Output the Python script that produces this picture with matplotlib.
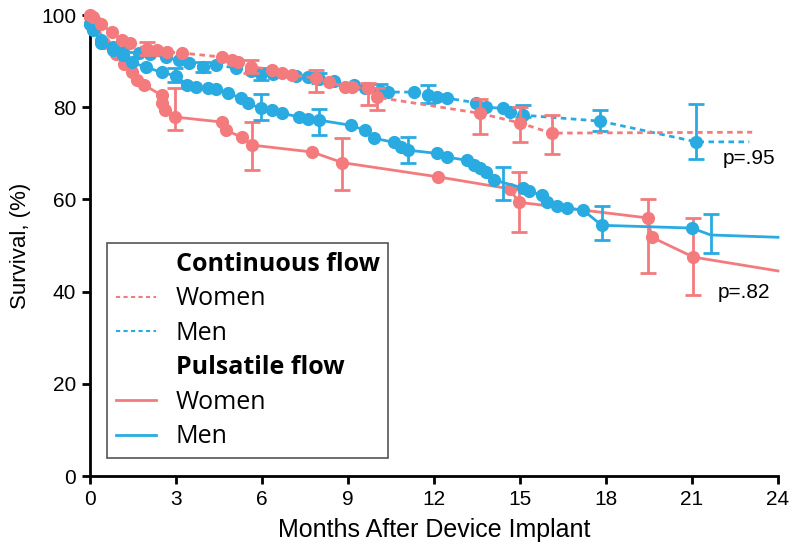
import matplotlib
matplotlib.use("Agg")
from matplotlib import pyplot as plt
from matplotlib.lines import Line2D

PINK = '#F37B7D'
BLUE = '#29ABE2'

# continuous flow, women
cw_months = [0, 0.1, 0.4, 0.75, 1.1, 1.4, 2.0, 2.35, 2.7, 3.2, 4.6, 4.95, 5.15, 5.6, 6.35, 6.7,
             7.05, 7.9, 8.35, 8.9, 9.15, 9.7, 10.0, 13.6, 15.0, 16.1, 23.1]
cw_surv = [100, 99.6, 98, 96.3, 94.6, 93.9, 92.6, 92.4, 92, 91.8, 90.9, 90.2, 89.8, 88.8, 88.2, 87.4,
           87, 86.3, 85.5, 84.4, 84.4, 84.2, 82.2, 78.7, 76.6, 74.4, 74.6]
cw_err_x = [2.0, 5.6, 7.9, 9.7, 10.0, 13.6, 15.0, 16.1]
cw_err_lo = [91.3, 87.4, 83.3, 80.5, 79.4, 74.2, 72.5, 69.8]
cw_err_hi = [94.1, 90.2, 88.0, 85.2, 84.2, 81.8, 80.0, 78.3]

# continuous flow, men
cm_months = [0, 0.1, 0.4, 0.8, 1.15, 1.7, 2.1, 2.65, 3.1, 3.45, 3.95, 4.4, 5.1, 5.6, 5.95, 6.4,
             7.2, 7.6, 8.0, 8.5, 9.2, 9.6, 10.1, 10.4, 11.3, 11.8, 12.1, 12.45, 13.45, 13.8,
             14.4, 14.65, 15.1, 17.8, 21.15, 23.0]
cm_surv = [98, 96.7, 94.5, 93, 92, 91.8, 91.5, 90.9, 90.2, 89.6, 88.7, 89.2, 88.5, 87.8, 87.3, 87.3,
           86.8, 86.6, 86.1, 85.6, 84.8, 84.2, 83.6, 83.3, 83.3, 82.6, 82.2, 82, 81, 80,
           79.8, 79, 78.3, 77, 72.5, 72.5]
cm_err_x = [3.95, 5.95, 8.0, 10.1, 11.8, 15.1, 17.8, 21.15]
cm_err_lo = [87.6, 86.0, 85.2, 82.6, 81.0, 77.9, 74.9, 68.8]
cm_err_hi = [89.8, 88.5, 87.4, 85.0, 84.8, 80.5, 79.4, 80.7]

# pulsatile flow, women
pw_months = [0, 0.2, 0.5, 0.9, 1.2, 1.45, 1.65, 1.9, 2.5, 2.5, 2.6, 2.95, 4.6, 4.75, 5.3, 5.65,
             7.75, 8.8, 12.15, 14.65, 14.95, 19.45, 19.6, 21.05, 24]
pw_surv = [99.5, 98.5, 94, 91.5, 89.5, 87.6, 85.9, 84.8, 82.6, 80.9, 79.4, 77.9, 76.8, 75, 73.5, 71.8,
           70.3, 68, 64.9, 62.3, 59.4, 56, 51.8, 47.5, 44.5]
pw_err_x = [2.95, 5.65, 8.8, 14.95, 19.45, 21.05]
pw_err_lo = [75.0, 66.4, 62.0, 52.9, 44.0, 39.3]
pw_err_hi = [84.2, 76.8, 73.3, 66.0, 60.0, 56.0]

# pulsatile flow, men
pm_months = [0, 0.1, 0.4, 0.8, 1.15, 1.45, 1.95, 2.5, 3.0, 3.4, 3.7, 4.1, 4.4, 4.8, 5.25, 5.5,
             5.95, 6.35, 6.7, 7.3, 7.6, 8.0, 9.1, 9.6, 9.9, 10.6, 10.85, 11.1, 12.1, 12.45,
             13.15, 13.4, 13.6, 13.8, 14.1, 15.1, 15.3, 15.75, 15.95, 16.3, 16.65, 17.2,
             17.85, 21.0, 21.65, 24]
pm_surv = [98, 97, 94, 92.4, 91.3, 89.8, 88.7, 87.6, 86.8, 84.8, 84.5, 84.2, 84, 83.1, 82, 80.9,
           79.8, 79.4, 78.7, 77.9, 77.4, 77.2, 76.1, 75, 73.3, 72.4, 71.4, 70.7, 70, 69.2,
           68.5, 67.5, 66.8, 66, 64.2, 62.5, 61.8, 61, 59.4, 58.6, 58.1, 57.7,
           54.4, 53.8, 52.3, 51.8]
pm_err_x = [2.95, 5.95, 8.0, 11.1, 14.4, 17.85, 21.65]
pm_err_lo = [85.5, 77.3, 74.0, 67.9, 59.9, 51.2, 48.4]
pm_err_hi = [88.5, 82.9, 79.6, 73.5, 67.0, 58.6, 56.8]

p_cont = 'p=.95'
p_puls = 'p=.82'

plt.rcParams['font.family'] = ['Liberation Sans', 'DejaVu Sans']

fig = plt.figure(figsize=(8, 5.5), dpi=100)
ax = fig.add_axes([0.1125, 0.1345, 0.86, 0.838])


def draw(months, surv, ex, lo, hi, color, ls, n_nomark, z):
    mk = slice(0, len(months) - n_nomark)
    ax.plot(months, surv, color=color, ls=ls, lw=2, marker='o', ms=9.5, mec='none',
            markevery=mk, clip_on=False, zorder=z)
    mid = [(a + b) / 2 for a, b in zip(lo, hi)]
    half = [(b - a) / 2 for a, b in zip(lo, hi)]
    ax.errorbar(ex, mid, yerr=half, fmt='none', ecolor=color, elinewidth=2,
                capsize=6, capthick=2, zorder=z)


draw(pw_months, pw_surv, pw_err_x, pw_err_lo, pw_err_hi, PINK, '-', 1, 2)
draw(pm_months, pm_surv, pm_err_x, pm_err_lo, pm_err_hi, BLUE, '-', 2, 3)
draw(cm_months, cm_surv, cm_err_x, cm_err_lo, cm_err_hi, BLUE, (0, (2, 1.6)), 1, 4)
draw(cw_months, cw_surv, cw_err_x, cw_err_lo, cw_err_hi, PINK, (0, (2, 1.6)), 1, 5)

ax.text(22.08, 69, p_cont, fontsize=15, va='center')
ax.text(21.9, 39.9, p_puls, fontsize=15, va='center')

ax.set_xlim(0, 24)
ax.set_ylim(0, 100)
ax.set_xticks(range(0, 25, 3))
ax.set_yticks(range(0, 101, 20))
for s in ['top', 'right']:
    ax.spines[s].set_visible(False)
for s in ['left', 'bottom']:
    ax.spines[s].set_linewidth(2)
ax.tick_params(width=2, length=6, labelsize=15, pad=4)
ax.set_xlabel('Months After Device Implant', fontsize=18, va='center')
ax.set_ylabel('Survival, (%)', fontsize=16, va='center')
ax.xaxis.set_label_coords(0.5, -0.117)
ax.yaxis.set_label_coords(-0.1017, 0.5)

blank = Line2D([], [], color='none')
handles = [blank,
           Line2D([], [], color=PINK, lw=1.5, ls=(0, (2, 1.6))),
           Line2D([], [], color=BLUE, lw=1.5, ls=(0, (2, 1.6))),
           blank,
           Line2D([], [], color=PINK, lw=2),
           Line2D([], [], color=BLUE, lw=2)]
labels = ['Continuous flow', 'Women', 'Men', 'Pulsatile flow', 'Women', 'Men']
leg = ax.legend(handles, labels, loc='upper left', bbox_to_anchor=(0.0247, 0.5054),
                borderaxespad=0, prop={'family': 'Open Sans', 'size': 18},
                handlelength=1.6, handletextpad=0.8, labelspacing=0.38, borderpad=0.35,
                fancybox=False, edgecolor='#555555', framealpha=1)
leg.get_frame().set_linewidth(1.2)
for i in (0, 3):
    leg.get_texts()[i].set_fontweight('bold')

fig.savefig('out.png', dpi=100)
